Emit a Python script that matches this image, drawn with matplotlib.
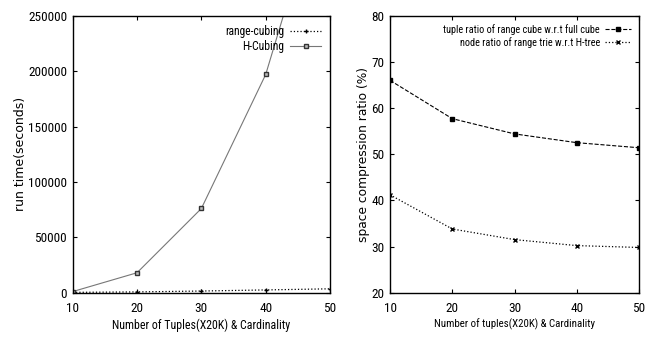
import matplotlib
matplotlib.use("Agg")
import matplotlib.pyplot as plt
from matplotlib import font_manager

# look for a narrow / condensed sans font (reference uses condensed Helvetica)
narrow_file = None
prefs = ['liberation sans narrow', 'roboto condensed', 'open sans condensed',
         'dejavu sans condensed', 'noto sans condensed']
cands = []
for f in font_manager.fontManager.ttflist:
    n = f.name.lower()
    fn = f.fname.lower()
    st = str(f.stretch).lower()
    if ('narrow' in n or 'condensed' in n or 'condensed' in fn or 'narrow' in fn
            or st in ('condensed', 'semi-condensed', 'extra-condensed')) \
            and f.weight in (400, 'normal', 'regular') and f.style == 'normal' \
            and 'mono' not in fn and 'serif' not in fn.replace('sans', ''):
        cands.append(f)
def rank(f):
    n = (f.name + ' ' + f.fname).lower()
    for i, p in enumerate(prefs):
        if p.split()[0] in n:
            return i
    return 99
cands.sort(key=rank)
if cands:
    narrow_file = cands[0].fname

base_family = ['Liberation Sans', 'DejaVu Sans']
plt.rcParams['font.family'] = base_family
plt.rcParams['font.size'] = 9

def fp(size):
    if narrow_file:
        return font_manager.FontProperties(fname=narrow_file, size=size)
    return font_manager.FontProperties(family=base_family, size=size)

x = [10, 20, 30, 40, 50]
range_cubing = [300, 700, 1500, 2500, 3500]
h_cubing = [1000, 18000, 76000, 197000, 390000]
tuple_ratio = [66.0, 57.7, 54.4, 52.5, 51.4]
node_ratio = [41.2, 33.8, 31.5, 30.2, 29.8]

left_yticks = [0, 50000, 100000, 150000, 200000, 250000]
right_yticks = [20, 30, 40, 50, 60, 70, 80]
xticks = [10, 20, 30, 40, 50]

fig = plt.figure(figsize=(6.45, 3.39), dpi=100)
ax1 = fig.add_axes([0.1127, 0.1366, 0.399, 0.817])
ax2 = fig.add_axes([0.6047, 0.1366, 0.3860, 0.817])

ax1.plot(x, range_cubing, linestyle=':', color='black', lw=0.9, marker='+',
         markersize=3, label='range-cubing')
ax1.plot(x, h_cubing, linestyle='-', color='#777777', lw=0.8, marker='s',
         markersize=3.5, markerfacecolor='#bbbbbb', markeredgecolor='#333333',
         label='H-Cubing')
ax1.set_xlim(10, 50)
ax1.set_ylim(0, 250000)
ax1.set_xticks(xticks)
ax1.set_yticks(left_yticks)
ax1.set_ylabel('run time(seconds)', family=['DejaVu Sans'], fontsize=9, labelpad=1)
ax1.set_xlabel('Number of Tuples(X20K) & Cardinality', fontproperties=fp(8.6), labelpad=2)
ax1.legend(loc='upper right', frameon=False, markerfirst=False,
           prop=fp(8.4), handlelength=2.6, borderaxespad=0.4, labelspacing=0.2,
           handletextpad=0.5)

ax2.plot(x, tuple_ratio, linestyle='--', color='black', lw=0.8, marker='s',
         markersize=3.5, label='tuple ratio of range cube w.r.t full cube')
ax2.plot(x, node_ratio, linestyle=':', color='black', lw=0.9, marker='x',
         markersize=3, label='node ratio of range trie w.r.t H-tree')
ax2.set_xlim(10, 50)
ax2.set_ylim(20, 80)
ax2.set_xticks(xticks)
ax2.set_yticks(right_yticks)
ax2.set_ylabel('space compression ratio (%)', family=['DejaVu Sans'], fontsize=8.8,
               labelpad=1)
ax2.set_xlabel('Number of tuples(X20K) & Cardinality', fontproperties=fp(7.8), labelpad=2)
ax2.legend(loc='upper right', frameon=False, markerfirst=False, prop=fp(7.4),
           handlelength=2.5, borderaxespad=0.4, labelspacing=0.2,
           handletextpad=0.5)

for ax in (ax1, ax2):
    ax.tick_params(direction='in', top=True, right=True, length=3, width=0.8,
                   pad=4)
    ax.tick_params(axis='x', pad=7)
    for lab in ax.get_xticklabels() + ax.get_yticklabels():
        lab.set_fontproperties(fp(9.5))
    for s in ax.spines.values():
        s.set_linewidth(1.0)

fig.savefig('out.png', dpi=100)
